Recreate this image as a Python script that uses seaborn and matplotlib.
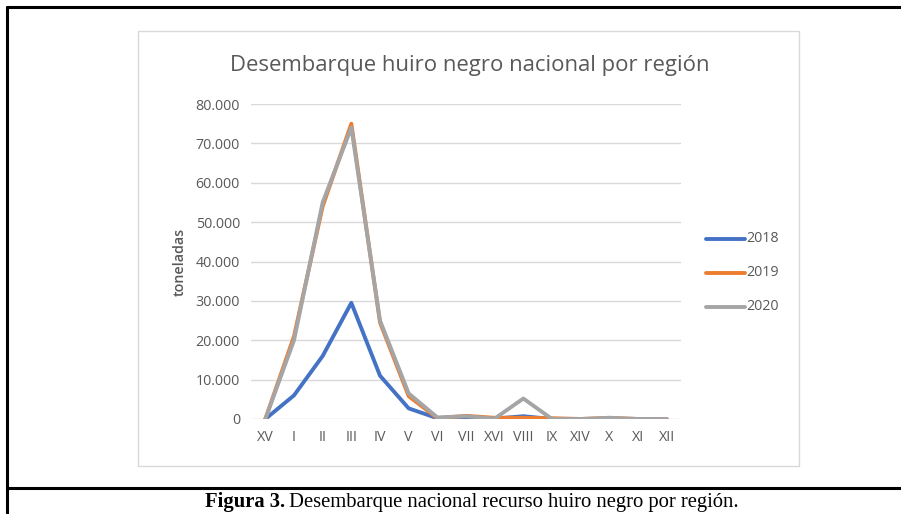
import numpy as np
import pandas as pd
import seaborn as sns
import matplotlib
matplotlib.use("Agg")
import matplotlib.pyplot as plt
from matplotlib.lines import Line2D
from matplotlib.patches import Rectangle
from matplotlib.ticker import FuncFormatter

# datos (toneladas) por region
regiones = ['XV', 'I', 'II', 'III', 'IV', 'V', 'VI', 'VII', 'XVI', 'VIII',
            'IX', 'XIV', 'X', 'XI', 'XII']
t2018 = [0, 6000, 16000, 29500, 11000, 2700, 200, 0, 100, 700, 0, 0, 0, 0, 0]
t2019 = [0, 21000, 54000, 75000, 24500, 5800, 200, 800, 300, 300, 200, 0, 300, 0, 0]
t2020 = [0, 20000, 55000, 74000, 25000, 6500, 400, 700, 100, 5200, 0, 0, 300, 0, 0]
anios = ['2018', '2019', '2020']
colores = ['#4472C4', '#ED7D31', '#A5A5A5']

df = pd.DataFrame({'region': regiones, '2018': t2018, '2019': t2019, '2020': t2020})
df_long = df.melt(id_vars='region', var_name='anio', value_name='toneladas')

sns.set_style("white")
plt.rcParams['font.family'] = ['Open Sans', 'DejaVu Sans']

fig = plt.figure(figsize=(9.01, 5.14), dpi=100)
W, H = 901, 514

def fx(x):
    return x / W

def fy(y):
    return 1 - y / H

# marcos
fig.add_artist(Line2D([fx(7), fx(7)], [fy(7), 0], color='black', lw=2.2))
fig.add_artist(Line2D([fx(7), 1], [fy(7), fy(7)], color='black', lw=2.2))
fig.add_artist(Line2D([fx(7), 1], [fy(488), fy(488)], color='black', lw=2.2))
fig.add_artist(Rectangle((fx(138), fy(466)), fx(799 - 138), (466 - 31) / H,
                         fill=False, edgecolor='#D9D9D9', lw=1))

ax = fig.add_axes([fx(251), fy(419), fx(681 - 251), (419 - 104) / H])
sns.lineplot(data=df_long, x='region', y='toneladas', hue='anio',
             palette=dict(zip(anios, colores)), linewidth=2.8, ax=ax,
             sort=False, legend=False)

ax.set_xlim(-0.5, len(regiones) - 0.5)
ax.set_ylim(0, 80000)
ax.set_yticks(np.arange(0, 80001, 10000))
ax.yaxis.set_major_formatter(FuncFormatter(lambda v, p: '0' if v == 0 else f'{int(v):,}'.replace(',', '.')))
ax.grid(axis='y', color='#D9D9D9', lw=1)
ax.set_axisbelow(True)
for s in ax.spines.values():
    s.set_visible(False)
ax.tick_params(axis='both', length=0, colors='#595959', labelsize=10.3, pad=8)
ax.set_xlabel('')
ax.set_ylabel('toneladas', color='#595959', fontsize=10.3, fontweight='semibold', labelpad=6)

fig.text(fx(470), fy(66), 'Desembarque huiro negro nacional por región',
         ha='center', va='center', fontsize=15.9, color='#595959')

# leyenda
for i, (a, c) in enumerate(zip(anios, colores)):
    y = 239 + i * 34
    fig.add_artist(Line2D([fx(706), fx(745)], [fy(y), fy(y)], color=c, lw=2.8))
    fig.text(fx(746), fy(y), a, ha='left', va='center', fontsize=10.3, color='#595959')

# pie de figura
t1 = fig.text(fx(205), fy(502), 'Figura 3.', ha='left', va='center', fontsize=14.9,
              family='Liberation Serif', fontweight='bold', color='black')
fig.canvas.draw()
bb = t1.get_window_extent()
fig.text(bb.x1 / W + fx(4), fy(502), 'Desembarque nacional recurso huiro negro por región.',
         ha='left', va='center', fontsize=14.9, family='Liberation Serif', color='black')

fig.savefig('out.png', dpi=100)
